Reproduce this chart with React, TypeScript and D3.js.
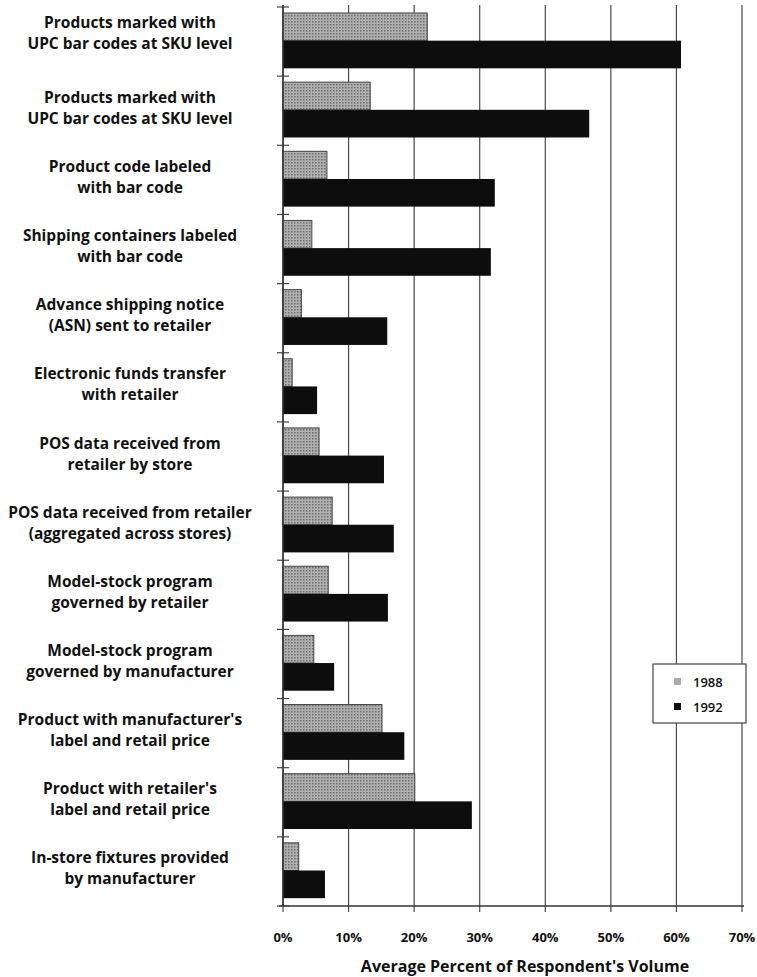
import React from "react";
import * as d3 from "d3";

const categories: string[][] = [
  ["Products marked with", "UPC bar codes at SKU level"],
  ["Products marked with", "UPC bar codes at SKU level"],
  ["Product code labeled", "with bar code"],
  ["Shipping containers labeled", "with bar code"],
  ["Advance shipping notice", "(ASN) sent to retailer"],
  ["Electronic funds transfer", "with retailer"],
  ["POS data received from", "retailer by store"],
  ["POS data received from retailer", "(aggregated across stores)"],
  ["Model-stock program", "governed by retailer"],
  ["Model-stock program", "governed by manufacturer"],
  ["Product with manufacturer's", "label and retail price"],
  ["Product with retailer's", "label and retail price"],
  ["In-store fixtures provided", "by manufacturer"],
];
const values1988 = [22.0, 13.3, 6.7, 4.4, 2.8, 1.4, 5.5, 7.5, 6.9, 4.7, 15.1, 20.1, 2.4];
const values1992 = [60.7, 46.7, 32.3, 31.7, 15.9, 5.2, 15.4, 16.9, 16.0, 7.8, 18.5, 28.8, 6.4];
const seriesNames = ["1988", "1992"];
const xTicks = [0, 10, 20, 30, 40, 50, 60, 70];
const xTitle = "Average Percent of Respondent's Volume";

const W = 757, H = 977;
const FONT = "'Open Sans', 'DejaVu Sans', sans-serif";

export default function App() {
  const x = d3.scaleLinear().domain([0, 70]).range([283, 742]);
  const y = d3.scaleBand<number>().domain(d3.range(categories.length)).range([7, 906]);
  const bw = y.bandwidth();
  const black = "#0d0d0d";
  const barH = bw * 0.4;
  return (
    <svg width={W} height={H} style={{ position: "absolute", left: 0, top: 0, background: "#fff" }}>
      <defs>
        <pattern id="dots" width="3" height="3" patternUnits="userSpaceOnUse">
          <rect width="3" height="3" fill="#b0b0b0" />
          <rect width="1.5" height="1.5" fill="#6e6e6e" />
        </pattern>
      </defs>
      {xTicks.map((t) => (
        <line key={"g" + t} x1={x(t)} x2={x(t)} y1={5} y2={912} stroke="#4a4a4a" strokeWidth={1.2} />
      ))}
      <line x1={x(0) - 4} x2={x(70) + 2} y1={906} y2={906} stroke="#333" strokeWidth={1.5} />
      {d3.range(categories.length + 1).map((i) => {
        const yy = i < categories.length ? (y(i) as number) : 906;
        return <line key={"lt" + i} x1={x(0) - 6} x2={x(0) + 6} y1={yy} y2={yy} stroke="#444" strokeWidth={1.2} />;
      })}
      {categories.map((_, i) => {
        const y0 = y(i) as number;
        return (
          <g key={"b" + i}>
            <rect x={x(0)} y={y0 + 6} width={x(values1988[i]) - x(0)} height={barH} fill="url(#dots)" stroke="#444" strokeWidth={1} />
            <rect x={x(0)} y={y0 + 6 + barH} width={x(values1992[i]) - x(0)} height={barH} fill={black} />
          </g>
        );
      })}
      <line x1={x(0)} x2={x(0)} y1={5} y2={906} stroke="#333" strokeWidth={1.5} />
      {categories.map((lines, i) => {
        const cy = (y(i) as number) + bw / 2 - 3 - (i === 0 ? 6 : 0);
        return (
          <text key={"c" + i} x={130} textAnchor="middle" fontFamily={FONT} fontWeight={700} fontSize={15.5} fill="#111">
            {lines.map((l, j) => (
              <tspan key={j} x={130} y={cy + (j - (lines.length - 1) / 2) * 21 + 5.5}>{l}</tspan>
            ))}
          </text>
        );
      })}
      {xTicks.map((t) => (
        <text key={"xt" + t} x={x(t)} y={942} textAnchor="middle" fontFamily={FONT} fontWeight={700} fontSize={13} fill="#111">
          {t + "%"}
        </text>
      ))}
      <text x={525} y={972} textAnchor="middle" fontFamily={FONT} fontWeight={700} fontSize={16} fill="#111">
        {xTitle}
      </text>
      <g>
        <rect x={653} y={664} width={93} height={59} fill="#fff" stroke="#444" strokeWidth={1.2} />
        <rect x={674} y={678} width={7} height={7} fill="#aaa" />
        <text x={693} y={687} fontFamily={FONT} fontWeight={600} fontSize={13} fill="#111">{seriesNames[0]}</text>
        <rect x={674} y={703} width={7} height={7} fill={black} />
        <text x={693} y={712} fontFamily={FONT} fontWeight={600} fontSize={13} fill="#111">{seriesNames[1]}</text>
      </g>
    </svg>
  );
}
